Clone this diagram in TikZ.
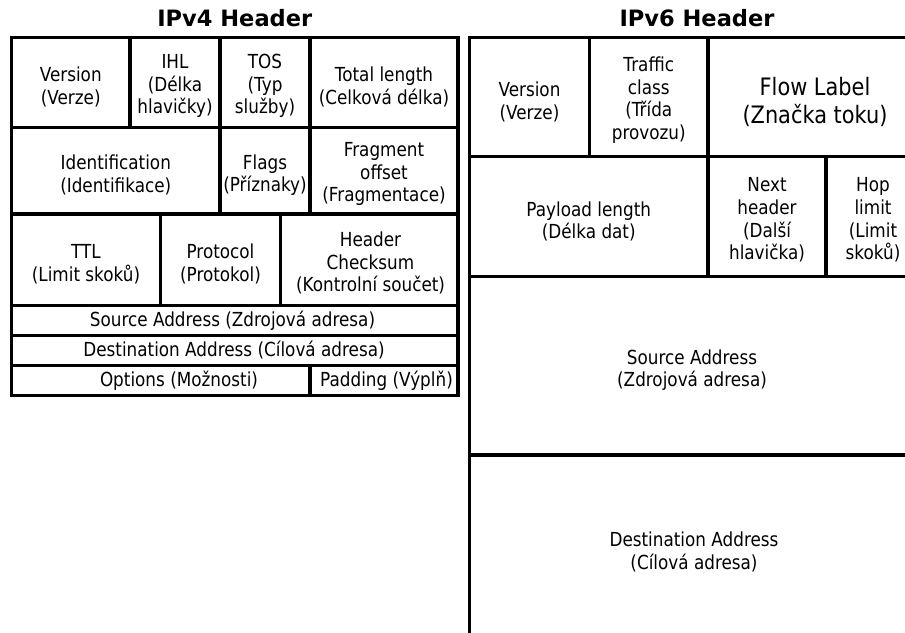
\documentclass[tikz,border=0pt]{standalone}
\usepackage{fontspec}
\setmainfont[FakeStretch=0.87]{DejaVu Sans}
\newfontfamily\headfont{DejaVu Sans}

\tikzset{every picture/.style={line width=2.4pt}}
\tikzset{
  field/.style={align=center, inner sep=0.75pt, font=\fontsize{14.5}{17}\selectfont},
  bigfield/.style={align=center, inner sep=0.75pt, font=\fontsize{18}{20.5}\selectfont},
  headtitle/.style={anchor=base, inner sep=0.75pt, font=\headfont\bfseries\fontsize{16.9}{20}\selectfont}
}

\begin{document}
\begin{tikzpicture}[x=0.75pt,y=0.75pt,yscale=-1,xscale=1]
\useasboundingbox (0,0) rectangle (905,632);
\clip (0,0) rectangle (905,632);

%Shape: Rectangle [IPv4 frame]
\draw (11.5,37.5) -- (458,37.5) -- (458,395.5) -- (11.5,395.5) -- cycle ;
%Straight Lines [IPv4 rows]
\draw (11.5,127.5) -- (458,127.5) ;
\draw (11.5,214) -- (458,214) ;
\draw (11.5,305.5) -- (458,305.5) ;
\draw (11.5,335.5) -- (458,335.5) ;
\draw (11.5,365.5) -- (458,365.5) ;
%Straight Lines [IPv4 columns]
\draw (130,37.5) -- (130,127.5) ;
\draw (220,37.5) -- (220,214) ;
\draw (310,37.5) -- (310,214) ;
\draw (160.5,214) -- (160.5,305.5) ;
\draw (280.5,214) -- (280.5,305.5) ;
\draw (310,365.5) -- (310,395.5) ;

%Shape: Open frame [IPv6, runs off the page]
\draw (469.5,650) -- (469.5,37.5) -- (920,37.5) -- (920,650) ;
%Straight Lines [IPv6 rows]
\draw (469.5,156.5) -- (920,156.5) ;
\draw (469.5,276.5) -- (920,276.5) ;
\draw (469.5,455) -- (920,455) ;
%Straight Lines [IPv6 columns]
\draw (589.5,37.5) -- (589.5,156.5) ;
\draw (708,37.5) -- (708,276.5) ;
\draw (826,156.5) -- (826,276.5) ;

% Text Node
\draw (234.75,26) node (t4) [headtitle] {IPv4 Header};
% Text Node
\draw (697,26) node (t6) [headtitle] {IPv6 Header};

% Text Node
\draw (70.75,87) node (v4ver) [field] {Version\\(Verze)};
% Text Node
\draw (175,86) node (v4ihl) [field] {IHL\\(Délka\\hlavičky)};
% Text Node
\draw (265,86) node (v4tos) [field] {TOS\\(Typ\\služby)};
% Text Node
\draw (384,87) node (v4len) [field] {Total length\\(Celková délka)};
% Text Node
\draw (115.75,175) node (v4id) [field] {Identification\\(Identifikace)};
% Text Node
\draw (265,175) node (v4flg) [field] {Flags\\(Příznaky)};
% Text Node
\draw (384,174) node (v4frag) [field] {Fragment\\offset\\(Fragmentace)};
% Text Node
\draw (86,264) node (v4ttl) [field] {TTL\\(Limit skoků)};
% Text Node
\draw (220.5,264) node (v4prot) [field] {Protocol\\(Protokol)};
% Text Node
\draw (370.5,263) node (v4sum) [field] {Header\\Checksum\\(Kontrolní součet)};
% Text Node
\draw (232.5,320.5) node (v4src) [field] {Source Address (Zdrojová adresa)};
% Text Node
\draw (234,350.5) node (v4dst) [field] {Destination Address (Cílová adresa)};
% Text Node
\draw (179,380.5) node (v4opt) [field] {Options (Možnosti)};
% Text Node
\draw (386.5,380.5) node (v4pad) [field] {Padding (Výplň)};

% Text Node
\draw (529.5,102) node (v6ver) [field] {Version\\(Verze)};
% Text Node
\draw (648.75,100) node (v6tc) [field] {Traffic\\class\\(Třída\\provozu)};
% Text Node
\draw (815,102) node (v6flow) [bigfield] {Flow Label\\(Značka toku)};
% Text Node
\draw (588.75,221.5) node (v6pay) [field] {Payload length\\(Délka dat)};
% Text Node
\draw (767,220) node (v6nxt) [field] {Next\\header\\(Další\\hlavička)};
% Text Node
\draw (873,220) node (v6hop) [field] {Hop\\limit\\(Limit\\skoků)};
% Text Node
\draw (692,370) node (v6src) [field] {Source Address\\(Zdrojová adresa)};
% Text Node
\draw (694,552) node (v6dst) [field] {Destination Address\\(Cílová adresa)};
\end{tikzpicture}
\end{document}
